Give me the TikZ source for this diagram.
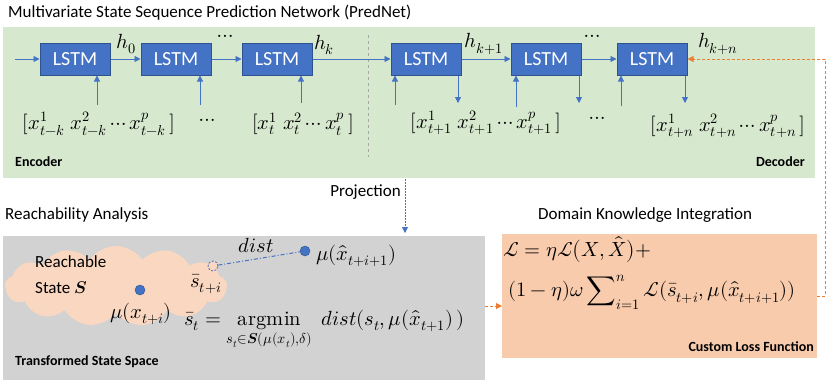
\documentclass[tikz,border=0pt]{standalone}
\usepackage{amsmath}
\usepackage{fontspec}
\usepackage{unicode-math}
\setmainfont{Carlito}
\setmathfont{Latin Modern Math}
\usetikzlibrary{shapes.symbols,arrows.meta}
\definecolor{bgGreen}{RGB}{214,232,206}
\definecolor{bgGray}{RGB}{210,210,210}
\definecolor{peach}{RGB}{248,203,173}
\definecolor{cloudc}{RGB}{250,215,192}
\definecolor{lstmFill}{RGB}{68,114,196}
\definecolor{lstmEdge}{RGB}{47,82,143}
\definecolor{arrBlue}{RGB}{68,114,196}
\definecolor{orng}{RGB}{237,125,49}
\tikzset{
  lstm/.style={draw=lstmEdge, line width=1pt, fill=lstmFill, minimum width=70pt, minimum height=32pt, inner sep=0pt, text=white, font=\fontsize{20}{24}\selectfont},
  flow/.style={draw=arrBlue, line width=0.8pt, -{Triangle[length=6pt,width=6pt]}},
  mtext/.style={font=\fontsize{20.5}{24}\selectfont, inner sep=0pt},
  title/.style={font=\fontsize{17}{20}\selectfont, inner sep=0pt, anchor=west},
  boldlab/.style={font=\bfseries\fontsize{14}{17}\selectfont, inner sep=0pt},
  dashor/.style={draw=orng, line width=1pt, dash pattern=on 3pt off 2pt},
}
\begin{document}
\begin{tikzpicture}[x=1pt,y=-1pt]
\useasboundingbox (0,0) rectangle (830,380);
% backgrounds
\fill[bgGreen] (3,27) rectangle (815,178);
\fill[bgGray] (3,236) rectangle (485,380);
\fill[peach] (502,234) rectangle (817,358);
% titles
\node[title] (tPred) at (8,13) {Multivariate State Sequence Prediction Network (PredNet)};
\node[title] (tReach) at (5,215) {Reachability Analysis};
\node[title] (tDom) at (538,215) {Domain Knowledge Integration};
\node[title, anchor=east] (tProj) at (401,192) {Projection};
\node[boldlab, anchor=west] (enc) at (15,162) {Encoder};
\node[boldlab, anchor=east] (dec) at (805,162) {Decoder};
\node[boldlab, anchor=west] (tss) at (15,362) {Transformed State Space};
\node[boldlab, anchor=east] (clf) at (814,347) {Custom Loss Function};
% separator
\draw[gray!70, line width=0.6pt, dash pattern=on 3pt off 3pt] (368,35) -- (368,157);
% LSTM nodes
\node[lstm] (l1) at (75,59) {LSTM};
\node[lstm] (l2) at (176,59) {LSTM};
\node[lstm] (l3) at (277,59) {LSTM};
\node[lstm] (l4) at (426,59) {LSTM};
\node[lstm] (l5) at (546,59) {LSTM};
\node[lstm] (l6) at (652,59) {LSTM};
\coordinate (in0) at (15,59);
\draw[flow] (in0) -- (l1);
\draw[flow] (l1) -- (l2);
\draw[flow] (l2) -- (l3);
\draw[flow] (l3) -- (l4);
\draw[flow] (l4) -- (l5);
\draw[flow] (l5) -- (l6);
% hidden labels
\node[mtext] (h0) at (126,44) {$h_0$};
\node[mtext] (d1) at (225,38) {$\cdots$};
\node[mtext] (hk) at (324,45) {$h_k$};
\node[mtext] (hk1) at (484,44) {$h_{k+1}$};
\node[mtext] (d2) at (592,38) {$\cdots$};
\node[mtext] (hkn) at (718,44) {$h_{k+n}$};
% input vectors
\node[mtext] (v1) at (99,124) {$[x^1_{t-k}\;x^2_{t-k}\cdots x^p_{t-k}\,]$};
\node[mtext] (dv1) at (207,122) {$\cdots$};
\node[mtext] (v2) at (303,124) {$[x^1_t\;x^2_t\cdots x^p_t\,]$};
\node[mtext] (v3) at (486,123) {$[x^1_{t+1}\;x^2_{t+1}\cdots x^p_{t+1}\,]$};
\node[mtext] (dv2) at (597,120) {$\cdots$};
\node[mtext] (v4) at (728,126) {$[x^1_{t+n}\;x^2_{t+n}\cdots x^p_{t+n}\,]$};
% vertical inputs
\coordinate (i1) at (97,105);
\coordinate (i2) at (200,105);
\coordinate (i3) at (301,103);
\coordinate (i4) at (395,105);
\coordinate (i5) at (516,107);
\coordinate (i6) at (621,106);
\draw[flow] (i1) -- (i1 |- l1.south);
\draw[flow] (i2) -- (i2 |- l2.south);
\draw[flow] (i3) -- (i3 |- l3.south);
\draw[flow] (i4) -- (i4 |- l4.south);
\draw[flow] (i5) -- (i5 |- l5.south);
\draw[flow] (i6) -- (i6 |- l6.south);
% decoder outputs
\coordinate (o4) at (458,103);
\coordinate (o5) at (579,103);
\coordinate (o6) at (685,103);
\draw[flow] (o4 |- l4.south) -- (o4);
\draw[flow] (o5 |- l5.south) -- (o5);
\draw[flow] (o6 |- l6.south) -- (o6);
% projection
\coordinate (pj0) at (405,179);
\coordinate (pj1) at (405,233);
\draw[flow, dash pattern=on 1.5pt off 1.5pt] (pj0) -- (pj1);
% cloud
\node[cloud, cloud puffs=13, cloud puff arc=110, aspect=2.8, fill=cloudc, draw=none, minimum width=222pt, minimum height=80pt, inner sep=0pt] (cl) at (116,286) {};
\node[font=\fontsize{17}{20}\selectfont, align=left, anchor=west, inner sep=0pt] (rs) at (35,275) {Reachable\\[6pt]State $\symbfit{S}$};
\node[circle, fill=arrBlue, draw=lstmEdge, minimum size=10pt, inner sep=0pt] (dotA) at (140,290) {};
\node[mtext] (muA) at (141,314) {$\mu(x_{t+i})$};
\node[draw=arrBlue, dash pattern=on 2pt off 1.5pt, fill=cloudc, circle, minimum size=10pt, inner sep=0pt, line width=0.8pt] (sc) at (213,266) {};
\node[mtext] (sbar) at (206,284) {$\bar{s}_{t+i}$};
\node[circle, fill=arrBlue, draw=lstmEdge, minimum size=10pt, inner sep=0pt] (dotB) at (305,251) {};
\draw[arrBlue, line width=1pt, dash pattern=on 4pt off 2pt on 1pt off 2pt] (sc) -- (dotB);
\node[mtext] (dist) at (256,245) {$dist$};
\node[mtext, anchor=west] (muB) at (316,256) {$\mu(\hat{x}_{t+i+1})$};
\node[mtext, anchor=west] (argm) at (184,330) {$\displaystyle\bar{s}_t = \mathop{\symup{argmin}}\limits_{s_t\in\symbfit{S}(\mu(x_t),\delta)}\; dist(s_t,\mu(\hat{x}_{t+1})\,)$};
% loss
\node[mtext, anchor=west] (loss1) at (503,250) {$\mathscr{L}=\eta\mathscr{L}\big(X,\hat{X}\big)+$};
\node[mtext, anchor=west] (loss2) at (508,292) {$\displaystyle(1-\eta)\omega\sum\nolimits_{i=1}^{n}\mathscr{L}(\bar{s}_{t+i},\mu(\hat{x}_{t+i+1}))$};
% orange connectors
\coordinate (gR) at (485,306);
\coordinate (oL) at (502,306);
\draw[dashor, -{Triangle[length=6pt,width=6pt]}] (gR) -- (oL);
\coordinate (oR) at (817,296);
\coordinate (fb) at (825,296);
\draw[dashor, -{Triangle[length=6pt,width=6pt]}] (oR) -- (fb) -- (fb |- l6.east) -- (l6.east);
\end{tikzpicture}
\end{document}
